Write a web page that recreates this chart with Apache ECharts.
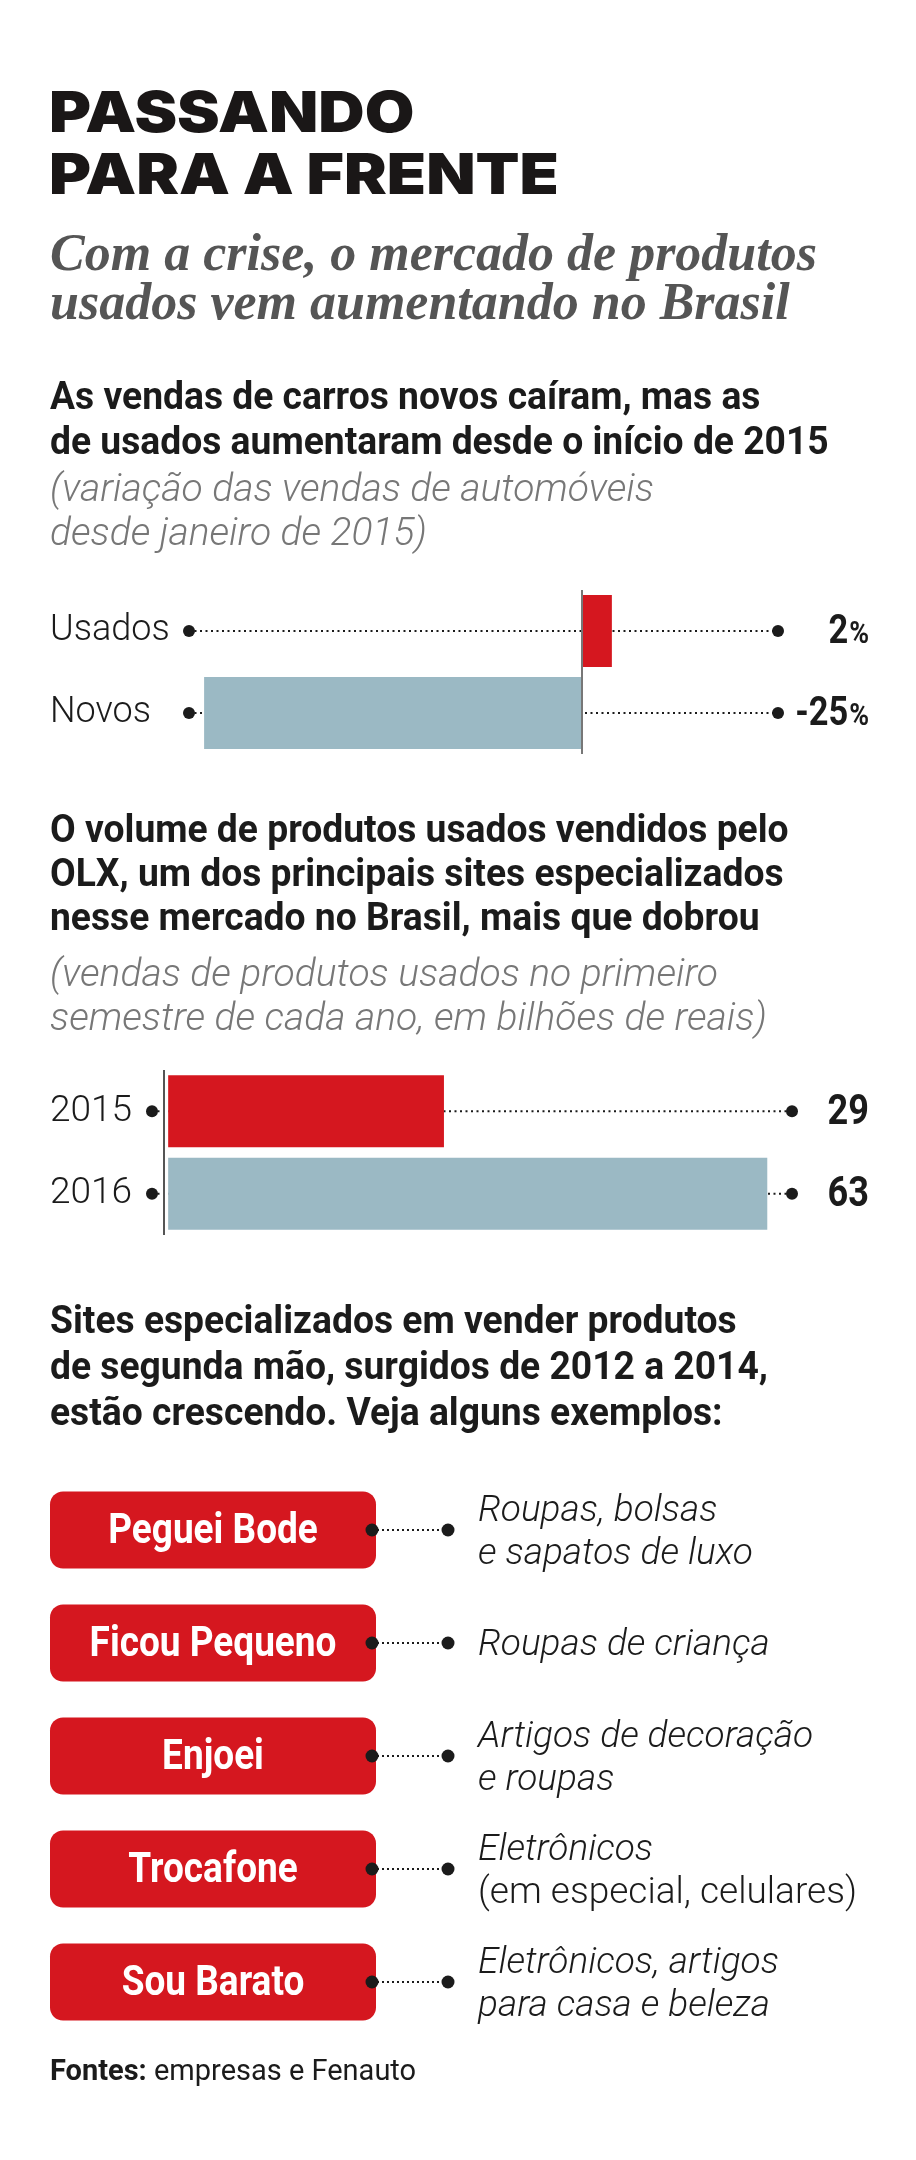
<!DOCTYPE html>
<html><head><meta charset="utf-8">
<script src="https://cdn.jsdelivr.net/npm/echarts@6/dist/echarts.min.js"></script>
<style>html,body{margin:0;padding:0;background:#fff}#c{width:916px;height:2160px}</style>
</head><body><div id="c"></div>
<script>
// ---- data ----
const titleLines = ['PASSANDO', 'PARA A FRENTE'];
const subtitleLines = ['Com a crise, o mercado de produtos', 'usados vem aumentando no Brasil'];
const heading1 = ['As vendas de carros novos caíram, mas as', 'de usados aumentaram desde o início de 2015'];
const note1 = ['(variação das vendas de automóveis', 'desde janeiro de 2015)'];
const carCategories = ['Usados', 'Novos'];
const carChange = [2, -25];
const heading2 = ['O volume de produtos usados vendidos pelo', 'OLX, um dos principais sites especializados', 'nesse mercado no Brasil, mais que dobrou'];
const note2 = ['(vendas de produtos usados no primeiro', 'semestre de cada ano, em bilhões de reais)'];
const olxYears = ['2015', '2016'];
const olxSales = [29, 63];
const heading3 = ['Sites especializados em vender produtos', 'de segunda mão, surgidos de 2012 a 2014,', 'estão crescendo. Veja alguns exemplos:'];
const sites = ['Peguei Bode', 'Ficou Pequeno', 'Enjoei', 'Trocafone', 'Sou Barato'];
const siteDescriptions = [
  ['Roupas, bolsas', 'e sapatos de luxo'],
  ['Roupas de criança'],
  ['Artigos de decoração', 'e roupas'],
  ['Eletrônicos', '(em especial, celulares)'],
  ['Eletrônicos, artigos', 'para casa e beleza']
];
const sourceLabel = 'Fontes:';
const sourceText = ' empresas e Fenauto';

// ---- styles ----
const RED = '#d5171f', BLUE = '#9bb9c4', INK = '#1b1b1b';
const SANS = 'Roboto, "Liberation Sans", sans-serif';
const VALUE_RIGHT = 869;

const chart = echarts.init(document.getElementById('c'), null, {renderer: 'canvas'});

function lineTexts(lines, x, y0, step, font, fill, sx) {
  return lines.map((t, i) => ({
    type: 'text', x: x, y: y0 + i * step, z: 10, scaleX: sx || 1,
    style: {text: t, font: font, fill: fill, verticalAlign: 'middle', align: 'left'}
  }));
}

function guideRender(fmt, size) {
  return function (params, api) {
    const cs = params.coordSys;
    const y = api.coord([0, api.value(1)])[1];
    const x0 = cs.x, x1 = cs.x + cs.width;
    return {
      type: 'group', children: [
        {type: 'line', shape: {x1: x0, y1: y, x2: x1, y2: y}, style: {stroke: INK, lineWidth: 2.2, lineDash: [2, 3.5]}},
        {type: 'circle', shape: {cx: x0, cy: y, r: 6}, style: {fill: INK}},
        {type: 'circle', shape: {cx: x1, cy: y, r: 6}, style: {fill: INK}},
        {type: 'text', x: VALUE_RIGHT, y: y + 2, scaleX: 0.86, style: {
          text: fmt(api.value(0)), align: 'right', verticalAlign: 'middle',
          rich: {
            n: {fontFamily: SANS, fontWeight: 'bold', fontSize: size, fill: INK},
            p: {fontFamily: SANS, fontWeight: 'bold', fontSize: size * 0.78, fill: INK, padding: [5, 0, 0, 1]}
          }
        }}
      ]
    };
  };
}

function pillRender(params, api) {
  const cs = params.coordSys;
  const idx = api.value(1);
  const y = api.coord([0, idx])[1];
  const x = cs.x, w = cs.width, h = 77;
  const desc = siteDescriptions[idx].map(l => (l.charAt(0) === '(' ? '{n|' : '{i|') + l + '}').join('\n');
  return {
    type: 'group', children: [
      {type: 'rect', shape: {x: x, y: y - h / 2, width: w, height: h, r: 13}, style: {fill: RED}},
      {type: 'text', x: x + w / 2, y: y + 2, scaleX: 0.86, style: {text: sites[idx], align: 'center', verticalAlign: 'middle',
        font: 'bold 43px ' + SANS, fill: '#fff'}},
      {type: 'line', shape: {x1: x + w - 4, y1: y, x2: x + w + 72, y2: y}, style: {stroke: INK, lineWidth: 2.2, lineDash: [2, 3]}},
      {type: 'circle', shape: {cx: x + w - 4, cy: y, r: 6.5}, style: {fill: INK}},
      {type: 'circle', shape: {cx: x + w + 72, cy: y, r: 6.5}, style: {fill: INK}},
      {type: 'text', x: x + w + 102, y: y + 3, style: {text: desc, align: 'left', verticalAlign: 'middle',
        rich: {
          i: {fontFamily: SANS, fontStyle: 'italic', fontWeight: 300, fontSize: 37, lineHeight: 43, fill: INK},
          n: {fontFamily: SANS, fontWeight: 300, fontSize: 37, lineHeight: 43, fill: INK}
        }}}
    ]
  };
}

const catLabel = {margin: 0, align: 'left', fontFamily: SANS, fontWeight: 300, fontSize: 36, color: INK};

const option = {
  animation: false,
  backgroundColor: '#ffffff',
  grid: [
    {left: 189, top: 590, width: 589, height: 164},
    {left: 152, top: 1070, width: 640, height: 165},
    {left: 50, top: 1473.5, width: 326, height: 565}
  ],
  xAxis: [
    {gridIndex: 0, type: 'value', min: -26, max: 13, show: false},
    {gridIndex: 1, type: 'value', min: -1.7, max: 65.6, show: false},
    {gridIndex: 2, type: 'value', min: 0, max: 1, show: false}
  ],
  yAxis: [
    {gridIndex: 0, type: 'category', data: carCategories, inverse: true,
      axisLine: {show: false}, axisTick: {show: false}, axisLabel: Object.assign({}, catLabel, {margin: 139})},
    {gridIndex: 1, type: 'category', data: olxYears, inverse: true,
      axisLine: {show: false}, axisTick: {show: false}, axisLabel: Object.assign({}, catLabel, {margin: 102, fontSize: 37})},
    {gridIndex: 2, type: 'category', data: sites, inverse: true, show: false}
  ],
  series: [
    {type: 'custom', xAxisIndex: 0, yAxisIndex: 0, z: 1, silent: true,
      data: carChange.map((v, i) => [v, i]),
      renderItem: guideRender(v => '{n|' + v + '}{p|%}', 40)},
    {type: 'bar', xAxisIndex: 0, yAxisIndex: 0, z: 3, barWidth: 72, data: carChange,
      itemStyle: {color: p => (p.dataIndex === 0 ? RED : BLUE)},
      markLine: {silent: true, symbol: 'none', label: {show: false},
        lineStyle: {color: '#777', width: 2, type: 'solid'}, data: [{xAxis: 0}]}},
    {type: 'custom', xAxisIndex: 1, yAxisIndex: 1, z: 1, silent: true,
      data: olxSales.map((v, i) => [v, i]),
      renderItem: guideRender(v => '{n|' + v + '}', 42)},
    {type: 'bar', xAxisIndex: 1, yAxisIndex: 1, z: 3, barWidth: 72, data: olxSales,
      itemStyle: {color: p => (p.dataIndex === 0 ? RED : BLUE)},
      markLine: {silent: true, symbol: 'none', label: {show: false},
        lineStyle: {color: '#555', width: 2, type: 'solid'}, data: [{xAxis: -0.5}]}},
    {type: 'custom', xAxisIndex: 2, yAxisIndex: 2, z: 2, silent: true,
      data: sites.map((s, i) => [0, i]),
      renderItem: pillRender}
  ],
  graphic: [].concat(
    lineTexts(titleLines, 49, 115, 62, '900 57px Inter, Lato, Roboto', '#1a1717', 1.125),
    lineTexts(subtitleLines, 50, 257, 49, 'italic bold 52px "Liberation Serif", serif', '#555555'),
    lineTexts(heading1, 50, 399, 45, 'bold 38px ' + SANS, INK, 0.98),
    lineTexts(note1, 50, 491, 44, 'italic 300 39px ' + SANS, '#777777'),
    lineTexts(heading2, 50, 832, 44, 'bold 38px ' + SANS, INK, 0.98),
    lineTexts(note2, 50, 976, 44, 'italic 300 39px ' + SANS, '#777777'),
    lineTexts(heading3, 50, 1323, 46, 'bold 38px ' + SANS, INK, 0.98),
    [{type: 'text', x: 50, y: 2073, z: 10, style: {text: '{b|' + sourceLabel + '}{r|' + sourceText + '}', verticalAlign: 'middle',
      rich: {b: {fontFamily: SANS, fontWeight: 'bold', fontSize: 29, fill: INK}, r: {fontFamily: SANS, fontSize: 29, fill: INK}}}}]
  )
};
chart.setOption(option);
</script>
</body></html>
